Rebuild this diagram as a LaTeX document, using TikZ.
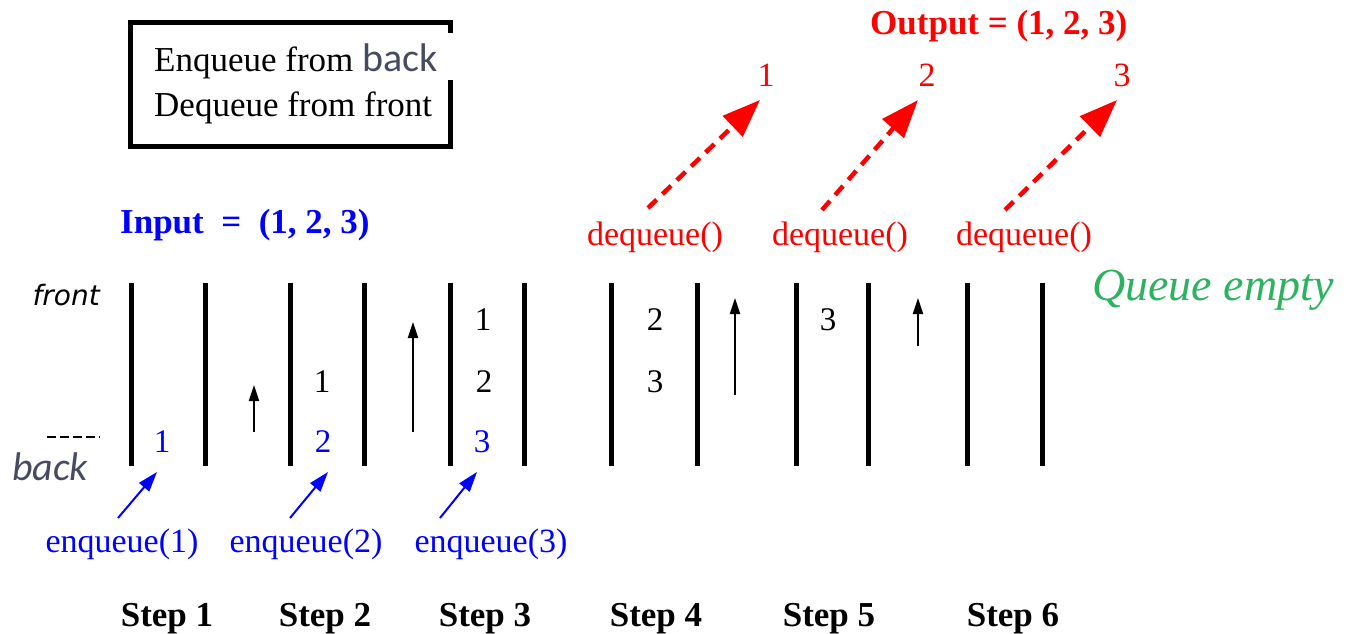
\documentclass[tikz,border=0pt]{standalone}
\usepackage{fontspec}
\setmainfont{Liberation Serif}
\newfontfamily\calib{Carlito}
\newfontfamily\dejav{DejaVu Sans}
\usetikzlibrary{arrows.meta}
\definecolor{qblue}{RGB}{0,0,255}
\definecolor{qred}{RGB}{255,0,0}
\definecolor{qgreen}{RGB}{45,178,95}
\definecolor{qgray}{RGB}{70,75,95}
\begin{document}
\begin{tikzpicture}[x=1pt,y=-1pt,
  txt/.style={inner sep=0pt, anchor=base, font=\fontsize{34}{40}\selectfont},
  boxtxt/.style={inner sep=0pt, anchor=base west, font=\fontsize{35}{40}\selectfont},
  bld/.style={inner sep=0pt, anchor=base, font=\fontsize{35}{40}\selectfont\bfseries},
  num/.style={inner sep=0pt, anchor=center, font=\fontsize{33}{40}\selectfont},
  bar/.style={line width=5pt},
  uparrow/.style={line width=2pt, -{Triangle[length=16pt,width=10pt]}},
  enq/.style={qblue, line width=2pt, -{Triangle[length=20pt,width=13pt]}},
  deq/.style={qred, line width=4.5pt, dash pattern=on 12pt off 8pt, -{Triangle[length=38pt,width=28pt]}}]
\useasboundingbox (0,0) rectangle (1347,634);
% legend box
\draw[line width=5pt] (450,80) -- (450,146) -- (130,146) -- (130,23) -- (450,23) -- (450,33);
\node[boxtxt] (l1) at (154,72) {Enqueue from {\calib\color{qgray}\fontsize{40}{40}\selectfont back}};
\node[boxtxt] (l2) at (154,117) {Dequeue from front};
% input / output
\node[bld, anchor=base west, qblue] (inp) at (120,233) {Input\ \ =\ \ (1, 2, 3)};
\node[bld, anchor=base west, qred] (outp) at (870,35) {Output = (1, 2, 3)};
\node[txt, qred] (o1) at (766,86) {1};
\node[txt, qred] (o2) at (927,86) {2};
\node[txt, qred] (o3) at (1122,86) {3};
\node[txt, qred] (d1) at (655,245) {dequeue()};
\node[txt, qred] (d2) at (840,245) {dequeue()};
\node[txt, qred] (d3) at (1024,245) {dequeue()};
\coordinate (dt1) at (648,208); \coordinate (dh1) at (760,100);
\coordinate (dt2) at (822,210); \coordinate (dh2) at (918,100);
\coordinate (dt3) at (1005,210); \coordinate (dh3) at (1117,100);
\draw[deq] (dt1) -- (dh1);
\draw[deq] (dt2) -- (dh2);
\draw[deq] (dt3) -- (dh3);
% side labels
\node[anchor=base east, inner sep=0pt, font=\dejav\itshape\fontsize{28}{30}\selectfont] (fr) at (100,305) {front};
\node[anchor=base west, inner sep=0pt, qgray, font=\calib\itshape\fontsize{40}{40}\selectfont] (bk) at (12,480) {back};
\draw[line width=1.5pt, dash pattern=on 9pt off 4pt] (47,437) -- (100,437);
\node[anchor=base west, inner sep=0pt, qgreen, font=\itshape\fontsize{46}{46}\selectfont] (qe) at (1092,300) {Queue empty};
% queue walls
\foreach \x in {131,205,290,364,450,524,611,697,796,868,967,1042}
  \draw[bar] (\x,283) -- (\x,466);
% contents
\node[num, qblue] (s1b) at (162,442) {1};
\node[num] (s2a) at (322,382) {1};
\node[num, qblue] (s2b) at (323,442) {2};
\node[num] (s3a) at (483,320) {1};
\node[num] (s3b) at (484,382) {2};
\node[num, qblue] (s3c) at (482,442) {3};
\node[num] (s4a) at (655,320) {2};
\node[num] (s4b) at (655,382) {3};
\node[num] (s5a) at (828,320) {3};
% shift arrows
\coordinate (u1t) at (254,432); \coordinate (u1h) at (254,385);
\coordinate (u2t) at (413,432); \coordinate (u2h) at (413,322);
\coordinate (u3t) at (735,395); \coordinate (u3h) at (735,298);
\coordinate (u4t) at (918,346); \coordinate (u4h) at (918,298);
\draw[uparrow] (u1t) -- (u1h);
\draw[uparrow] (u2t) -- (u2h);
\draw[uparrow] (u3t) -- (u3h);
\draw[uparrow] (u4t) -- (u4h);
% enqueue
\node[txt, qblue] (e1) at (122,552) {enqueue(1)};
\node[txt, qblue] (e2) at (306,552) {enqueue(2)};
\node[txt, qblue] (e3) at (491,552) {enqueue(3)};
\coordinate (et1) at (118,518); \coordinate (eh1) at (157,472);
\coordinate (et2) at (290,518); \coordinate (eh2) at (328,472);
\coordinate (et3) at (440,518); \coordinate (eh3) at (477,472);
\draw[enq] (et1) -- (eh1);
\draw[enq] (et2) -- (eh2);
\draw[enq] (et3) -- (eh3);
% steps
\node[bld] (st1) at (167,626) {Step 1};
\node[bld] (st2) at (325,626) {Step 2};
\node[bld] (st3) at (485,626) {Step 3};
\node[bld] (st4) at (656,626) {Step 4};
\node[bld] (st5) at (829,626) {Step 5};
\node[bld] (st6) at (1013,626) {Step 6};
\end{tikzpicture}
\end{document}
